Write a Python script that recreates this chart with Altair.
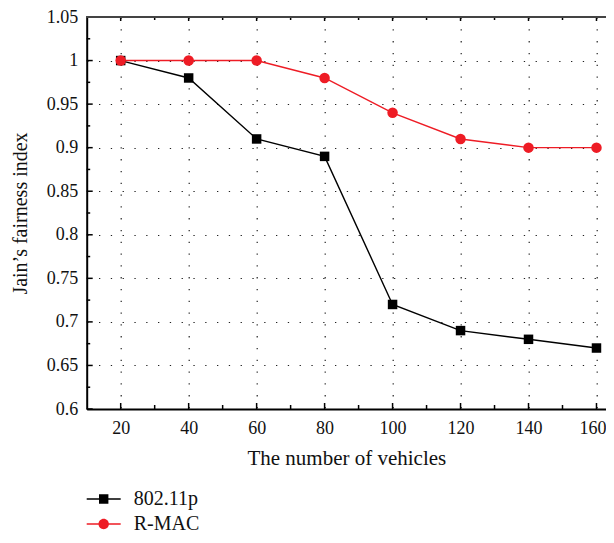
import altair as alt
import pandas as pd

# ---------------- data ----------------
vehicles = [20, 40, 60, 80, 100, 120, 140, 160]
fair_80211p = [1.0, 0.98, 0.91, 0.89, 0.72, 0.69, 0.68, 0.67]
fair_rmac = [1.0, 1.0, 1.0, 0.98, 0.94, 0.91, 0.90, 0.90]
series_names = ["802.11p", "R-MAC"]
series_colors = ["#000000", "#ee1c25"]

x_major = [20, 40, 60, 80, 100, 120, 140, 160]
x_minor = [30, 50, 70, 90, 110, 130, 150]
y_major = [0.6, 0.65, 0.7, 0.75, 0.8, 0.85, 0.9, 0.95, 1.0, 1.05]
y_minor = [0.625, 0.675, 0.725, 0.775, 0.825, 0.875, 0.925, 0.975, 1.025]

# ---------------- layout ----------------
W = 519.3
H = 392
FONT = "Liberation Serif"

df = pd.DataFrame({
    "vehicles": vehicles * 2,
    "fairness": fair_80211p + fair_rmac,
    "series": [series_names[0]] * len(vehicles) + [series_names[1]] * len(vehicles),
})
df_xmaj = pd.DataFrame({"vehicles": x_major})
df_xmin = pd.DataFrame({"vehicles": x_minor})
df_ymaj = pd.DataFrame({"fairness": y_major})
df_ymin = pd.DataFrame({"fairness": y_minor})

xs = alt.Scale(domain=[10, 162.8], nice=False, zero=False)
ys = alt.Scale(domain=[0.6, 1.05], nice=False, zero=False)


def cscale():
    return alt.Scale(domain=series_names, range=series_colors)


x_axis = alt.Axis(
    values=x_major, title="The number of vehicles", grid=True,
    gridDash=[1.3, 10.5], gridColor="#222", gridWidth=1.2,
    domainColor="#000", domainWidth=2, tickSize=0,
    labelFont=FONT, labelFontSize=18, labelColor="#111", labelPadding=10,
    labelOffset={"condition": {"test": "datum.value == 160", "value": -4}, "value": 0},
    titleFont=FONT, titleFontSize=21, titleFontWeight="normal", titleColor="#111",
    titlePadding=10,
)
y_axis = alt.Axis(
    values=y_major, title="Jain\u2019s fairness index", format=".2~f", grid=True,
    gridDash=[1.3, 10.5], gridColor="#222", gridWidth=1.2,
    domainColor="#000", domainWidth=2, tickSize=0,
    labelFont=FONT, labelFontSize=18, labelColor="#111", labelPadding=9,
    titleFont=FONT, titleFontSize=20, titleFontWeight="normal", titleColor="#111",
    titlePadding=16,
)

X = alt.X("vehicles:Q", scale=xs, axis=x_axis)
Y = alt.Y("fairness:Q", scale=ys, axis=y_axis)

lines = alt.Chart(df).mark_line(strokeWidth=1.4).encode(
    x=X, y=Y,
    color=alt.Color("series:N", scale=cscale(), legend=None),
)

points = alt.Chart(df).mark_point(filled=True, opacity=1).encode(
    x=X, y=Y,
    color=alt.Color("series:N", scale=cscale(), legend=None),
    shape=alt.Shape("series:N", scale=alt.Scale(domain=series_names, range=["square", "circle"]), legend=None),
    size=alt.Size("series:N", scale=alt.Scale(domain=series_names, range=[90, 110]), legend=None),
)

# legend symbols: line segment with marker in the middle
sym_square = "M-1.7,-0.07H1.7V0.07H-1.7Z M-0.47,-0.47H0.47V0.47H-0.47Z"
sym_circle = "M-1.7,-0.07H1.7V0.07H-1.7Z M0.52,0A0.52,0.52,0,1,1,-0.52,0A0.52,0.52,0,1,1,0.52,0Z"

leg = dict(
    orient="none", legendX=7, legendY=472, title=None, padding=0,
    symbolSize=400, symbolStrokeWidth=0, rowPadding=5, labelOffset=20,
    labelFont=FONT, labelFontSize=20, labelColor="#111",
)

legend_layer = alt.Chart(df).transform_filter("false").mark_point(filled=True, opacity=1).encode(
    x=X, y=Y,
    color=alt.Color("series:N", scale=cscale(), legend=alt.Legend(**leg)),
    shape=alt.Shape("series:N", scale=alt.Scale(domain=series_names, range=[sym_square, sym_circle]),
                    legend=alt.Legend(**leg)),
)

# inward ticks and top frame line
tick_x_major = alt.Chart(df_xmaj).mark_rule(color="#000", strokeWidth=1.5).encode(
    x=X, y=alt.value(H), y2=alt.value(H - 6))
tick_x_minor = alt.Chart(df_xmin).mark_rule(color="#000", strokeWidth=1.5).encode(
    x=X, y=alt.value(H), y2=alt.value(H - 4))
tick_xt_major = alt.Chart(df_xmaj).mark_rule(color="#000", strokeWidth=1.5).encode(
    x=X, y=alt.value(0), y2=alt.value(4))
tick_xt_minor = alt.Chart(df_xmin).mark_rule(color="#000", strokeWidth=1.5).encode(
    x=X, y=alt.value(0), y2=alt.value(3))
tick_y_major = alt.Chart(df_ymaj).mark_rule(color="#000", strokeWidth=1.5).encode(
    y=Y, x=alt.value(0), x2=alt.value(6))
tick_y_minor = alt.Chart(df_ymin).mark_rule(color="#000", strokeWidth=1.5).encode(
    y=Y, x=alt.value(0), x2=alt.value(3.5))
top_line = alt.Chart(df_xmaj).mark_rule(color="#444", strokeWidth=2).encode(
    x=alt.value(0), x2=alt.value(W), y=alt.value(0))

chart = alt.layer(
    lines, tick_x_major, tick_x_minor, tick_xt_major, tick_xt_minor,
    tick_y_major, tick_y_minor, top_line, points, legend_layer,
).resolve_scale(
    color="independent", shape="independent"
).properties(
    width=W, height=H,
    autosize=alt.AutoSizeParams(type="none"),
    padding={"left": 78.7, "top": 9, "right": 0, "bottom": 126},
    background="white",
).configure_view(stroke=None)

chart.save("out.html", embed_options={"renderer": "svg", "actions": False})
